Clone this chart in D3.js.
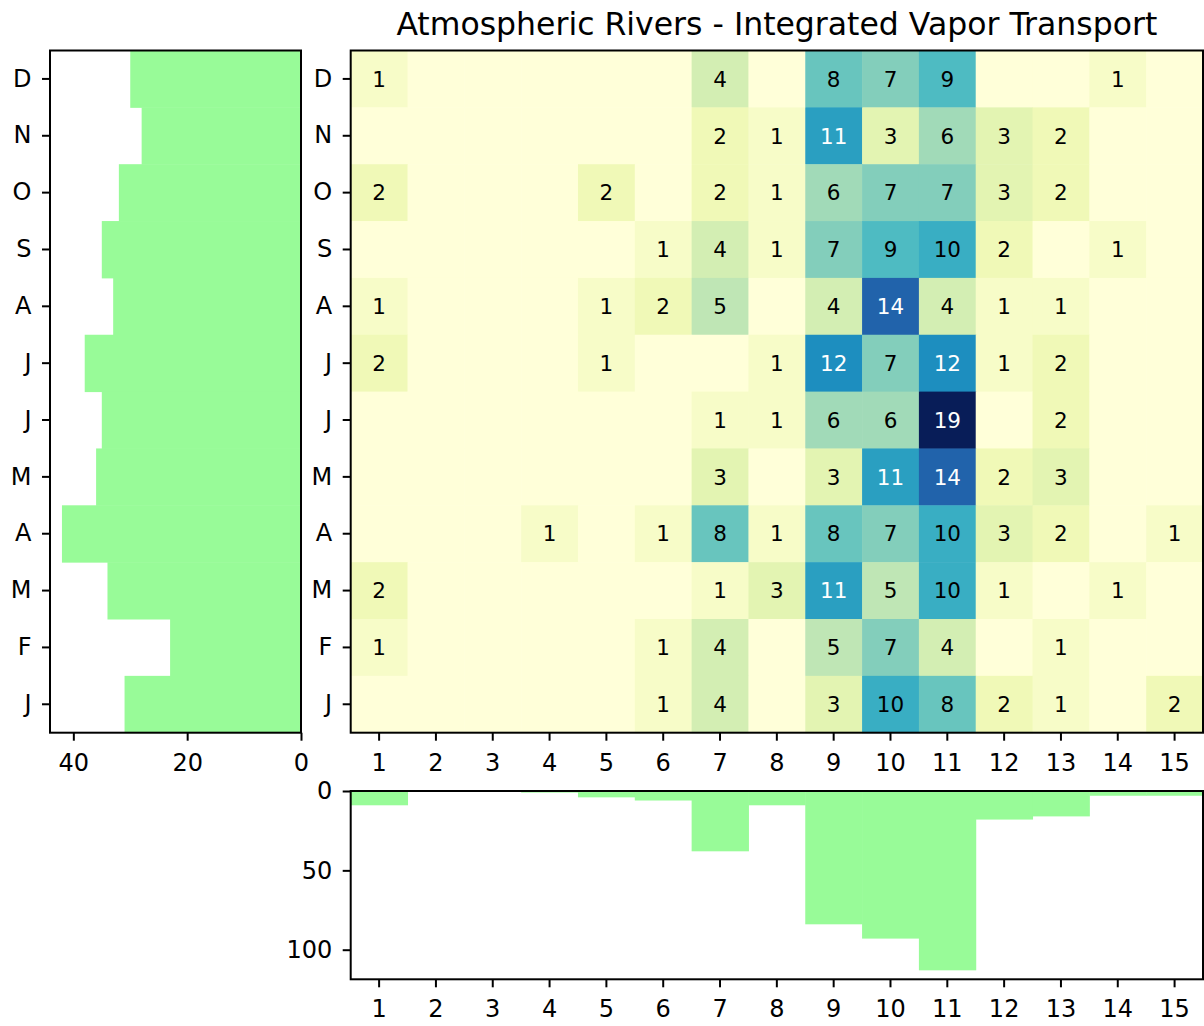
<!DOCTYPE html>
<html>
<head>
<meta charset="utf-8">
<script src="https://cdn.jsdelivr.net/npm/d3@7"></script>
<style>
  html, body { margin: 0; padding: 0; background: #fff; }
  svg { display: block; font-family: "DejaVu Sans", sans-serif; }
  .tick text { font-size: 24px; fill: #000; }
  .tick line { stroke: #000; stroke-width: 2px; }
</style>
</head>
<body>
<svg id="chart" width="1204" height="1026"></svg>
<script>
// Month labels, top row first (December down to January)
const months = ["D", "N", "O", "S", "A", "J", "J", "M", "A", "M", "F", "J"];
// Category columns
const categories = [1, 2, 3, 4, 5, 6, 7, 8, 9, 10, 11, 12, 13, 14, 15];
// Event counts per month (rows) and category (columns)
const rowD = [1, 0, 0, 0, 0, 0, 4, 0, 8, 7, 9, 0, 0, 1, 0];
const rowN = [0, 0, 0, 0, 0, 0, 2, 1, 11, 3, 6, 3, 2, 0, 0];
const rowO = [2, 0, 0, 0, 2, 0, 2, 1, 6, 7, 7, 3, 2, 0, 0];
const rowS = [0, 0, 0, 0, 0, 1, 4, 1, 7, 9, 10, 2, 0, 1, 0];
const rowAug = [1, 0, 0, 0, 1, 2, 5, 0, 4, 14, 4, 1, 1, 0, 0];
const rowJul = [2, 0, 0, 0, 1, 0, 0, 1, 12, 7, 12, 1, 2, 0, 0];
const rowJun = [0, 0, 0, 0, 0, 0, 1, 1, 6, 6, 19, 0, 2, 0, 0];
const rowMay = [0, 0, 0, 0, 0, 0, 3, 0, 3, 11, 14, 2, 3, 0, 0];
const rowApr = [0, 0, 0, 1, 0, 1, 8, 1, 8, 7, 10, 3, 2, 0, 1];
const rowMar = [2, 0, 0, 0, 0, 0, 1, 3, 11, 5, 10, 1, 0, 1, 0];
const rowF = [1, 0, 0, 0, 0, 1, 4, 0, 5, 7, 4, 0, 1, 0, 0];
const rowJan = [0, 0, 0, 0, 0, 1, 4, 0, 3, 10, 8, 2, 1, 0, 2];
const counts = [rowD, rowN, rowO, rowS, rowAug, rowJul, rowJun, rowMay, rowApr, rowMar, rowF, rowJan];
// Axis ticks
const leftTicks = [40, 20, 0];
const bottomTicks = [0, 50, 100];
// YlGnBu stops
const ylgnbu = ["#ffffd9", "#edf8b1", "#c7e9b4", "#7fcdbb", "#41b6c4", "#1d91c0", "#225ea8", "#253494", "#081d58"];

const svg = d3.select("#chart");
const rowIdx = d3.range(months.length);

// Panel geometry
const heat = { x0: 350.7, x1: 1203, y0: 50.5, y1: 732.7 };
const side = { x0: 50, x1: 301 };
const bot = { y0: 791, y1: 979.3 };

const x = d3.scaleBand().domain(categories).range([heat.x0, heat.x1]).padding(0);
const y = d3.scaleBand().domain(rowIdx).range([heat.y0, heat.y1]).padding(0);

const vmax = d3.max(counts, r => d3.max(r));
const color = d3.scaleLinear()
  .domain(ylgnbu.map((_, i) => vmax * i / (ylgnbu.length - 1)))
  .range(ylgnbu)
  .interpolate(d3.interpolateRgb);

const rowTotals = counts.map(r => d3.sum(r));
const colTotals = categories.map((_, j) => d3.sum(counts, r => r[j]));

const cells = [];
counts.forEach((r, i) => r.forEach((v, j) => cells.push({ i, j, v })));

// Heatmap cells
const gHeat = svg.append("g");
gHeat.selectAll("rect").data(cells).join("rect")
  .attr("x", d => x(categories[d.j]))
  .attr("y", d => y(d.i))
  .attr("width", x.bandwidth() + 0.5)
  .attr("height", y.bandwidth() + 0.5)
  .attr("fill", d => color(d.v));

gHeat.selectAll("text").data(cells.filter(d => d.v > 0)).join("text")
  .attr("x", d => x(categories[d.j]) + x.bandwidth() / 2)
  .attr("y", d => y(d.i) + y.bandwidth() / 2)
  .attr("dy", "0.36em")
  .attr("text-anchor", "middle")
  .attr("font-size", 21.5)
  .attr("fill", d => d.v > 10 ? "#fff" : "#000")
  .text(d => d.v);

// Side histogram (row totals), reversed x
const xs = d3.scaleLinear().domain([d3.max(rowTotals) * 1.05, 0]).range([side.x0, side.x1]);
svg.append("g").selectAll("rect").data(rowTotals).join("rect")
  .attr("x", d => xs(d))
  .attr("y", (d, i) => y(i))
  .attr("width", d => xs(0) - xs(d))
  .attr("height", y.bandwidth() + 0.5)
  .attr("fill", "#98fb98");

// Bottom histogram (column totals), downward
const yb = d3.scaleLinear().domain([0, d3.max(colTotals) * 1.05]).range([bot.y0, bot.y1]);
svg.append("g").selectAll("rect").data(colTotals).join("rect")
  .attr("x", (d, j) => x(categories[j]))
  .attr("y", yb(0))
  .attr("width", x.bandwidth() + 0.5)
  .attr("height", d => yb(d) - yb(0))
  .attr("fill", "#98fb98");

// Axes
function styleAxis(g) {
  g.select(".domain").remove();
  g.selectAll(".tick text").attr("font-family", "DejaVu Sans");
}
const tick = 8, padX = 13, padY = 10.5;

svg.append("g").attr("transform", `translate(${heat.x0},0)`)
  .call(d3.axisLeft(y).tickFormat(i => months[i]).tickSize(tick).tickPadding(padY)).call(styleAxis);
svg.append("g").attr("transform", `translate(0,${heat.y1})`)
  .call(d3.axisBottom(x).tickSize(tick).tickPadding(padX)).call(styleAxis);

svg.append("g").attr("transform", `translate(${side.x0},0)`)
  .call(d3.axisLeft(y).tickFormat(i => months[i]).tickSize(tick).tickPadding(padY)).call(styleAxis);
svg.append("g").attr("transform", `translate(0,${heat.y1})`)
  .call(d3.axisBottom(xs).tickValues(leftTicks).tickSize(tick).tickPadding(padX)).call(styleAxis);

svg.append("g").attr("transform", `translate(${heat.x0},0)`)
  .call(d3.axisLeft(yb).tickValues(bottomTicks).tickSize(tick).tickPadding(padY)).call(styleAxis);
svg.append("g").attr("transform", `translate(0,${bot.y1})`)
  .call(d3.axisBottom(x).tickSize(tick).tickPadding(padX)).call(styleAxis);

// Panel frames
const frames = [
  [heat.x0, heat.y0, heat.x1, heat.y1],
  [side.x0, heat.y0, side.x1, heat.y1],
  [heat.x0, bot.y0, heat.x1, bot.y1]
];
svg.append("g").selectAll("rect").data(frames).join("rect")
  .attr("x", d => d[0]).attr("y", d => d[1])
  .attr("width", d => d[2] - d[0]).attr("height", d => d[3] - d[1])
  .attr("fill", "none").attr("stroke", "#000").attr("stroke-width", 2);

// Title
svg.append("text")
  .attr("x", (heat.x0 + heat.x1) / 2)
  .attr("y", 35)
  .attr("text-anchor", "middle")
  .attr("font-size", 31.5)
  .attr("fill", "#000")
  .text("Atmospheric Rivers - Integrated Vapor Transport");
</script>
</body>
</html>
